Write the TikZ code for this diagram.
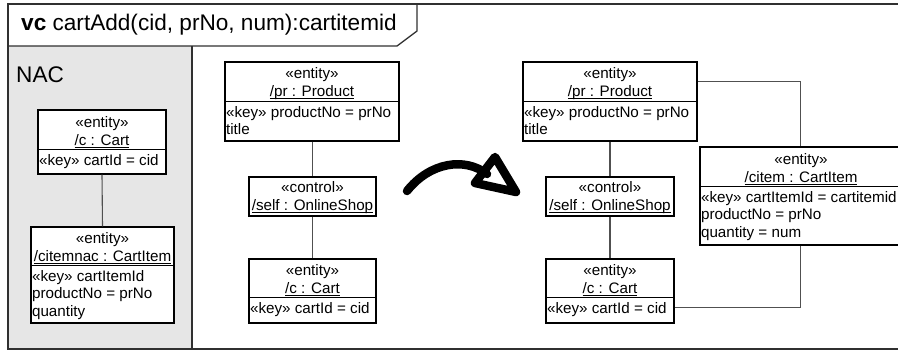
\documentclass[tikz,border=0pt]{standalone}
\usepackage{fontspec}
\setmainfont{Liberation Sans}
\usetikzlibrary{fit}
\definecolor{nacgray}{HTML}{E6E6E6}
\definecolor{conngray}{HTML}{505050}
\definecolor{framegray}{HTML}{303030}
\newcommand\undl[1]{\setbox0\hbox{#1}\rlap{\rule[-2.4pt]{\wd0}{0.9pt}}\box0}
\tikzset{
  obox/.style={draw=black, line width=1.3pt, inner sep=0pt, fill=white},
  divline/.style={draw=black, line width=1.3pt},
  hdr/.style={inner sep=0pt, align=center, font=\fontsize{15.2}{17.8}\selectfont},
  attr/.style={inner sep=0pt, anchor=north west, align=left, font=\fontsize{15.2}{17.5}\selectfont},
  conn/.style={draw=conngray, line width=1.1pt},
  frameline/.style={draw=framegray, line width=1.3pt},
  bigtext/.style={inner sep=0pt, anchor=west, font=\fontsize{22.6}{26}\selectfont},
  bigarrow/.style={draw=black, line width=8.5pt, line cap=round, line join=round}
}
% #1 name, #2 x1, #3 y1, #4 x2, #5 y2, #6 divider offset, #7 header, #8 attributes
\newcommand\ubox[8]{%
  \node[obox, fit={(#2,#3) (#4,#5)}] (#1) {};
  \draw[divline] ([yshift=-#6pt]#1.north west) -- ([yshift=-#6pt]#1.north east);
  \node[hdr] (#1-h) at ([yshift=-#6pt/2-2.5pt]#1.north) {#7};
  \node[attr] (#1-a) at ([xshift=1.5pt,yshift=-#6pt-4.5pt]#1.north west) {#8};
}
\begin{document}
\begin{tikzpicture}[x=1pt, y=-1pt]
\useasboundingbox (0,0) rectangle (898,350);
% NAC region
\fill[nacgray] (8,46) rectangle (192,349);
\draw[frameline] (192,46) -- (192,349);
% frame
\draw[frameline] (905,4) -- (8,4) -- (8,349) -- (905,349);
\draw[frameline] (417,4) -- (417,31) -- (397,46) -- (8,46);
\node[bigtext] (title) at (21,25) {\textbf{vc} cartAdd(cid, prNo, num):cartitemid};
\node[bigtext] (nac) at (16,75) {NAC};

% NAC boxes
\ubox{cnac}{38}{110}{166}{174}{40}{«entity»\\\undl{/c : Cart}}{«key» cartId = cid}
\ubox{cinac}{31}{227}{174}{323}{39}{«entity»\\\undl{/citemnac : CartItem}}{«key» cartItemId\\productNo = prNo\\quantity}
\draw[conn] (cnac.south) -- (cinac.north);

% left side
\ubox{pr1}{225}{62}{399}{141}{40}{«entity»\\\undl{/pr : Product}}{«key» productNo = prNo\\title}
\node[obox, fit={(249,177) (376,216)}] (ctl1) {};
\node[hdr] (ctl1-h) at ([yshift=-1pt]ctl1.center) {«control»\\\undl{/self : OnlineShop}};
\ubox{ct1}{249}{259}{376}{323}{39}{«entity»\\\undl{/c : Cart}}{«key» cartId = cid}
\draw[conn] (pr1.south -| ctl1.north) -- (ctl1.north);
\draw[conn] (ctl1.south) -- (ct1.north);

% right side
\ubox{pr2}{523}{62}{697}{141}{40}{«entity»\\\undl{/pr : Product}}{«key» productNo = prNo\\title}
\node[obox, fit={(546,177) (674,216)}] (ctl2) {};
\node[hdr] (ctl2-h) at ([yshift=-1pt]ctl2.center) {«control»\\\undl{/self : OnlineShop}};
\ubox{ct2}{546}{259}{674}{323}{39}{«entity»\\\undl{/c : Cart}}{«key» cartId = cid}
\ubox{ci}{700}{147}{902}{245}{40}{«entity»\\\undl{/citem : CartItem}}{«key» cartItemId = cartitemid\\productNo = prNo\\quantity = num}
\draw[conn] (pr2.south -| ctl2.north) -- (ctl2.north);
\draw[conn] (ctl2.south) -- (ct2.north);
\draw[conn] ([yshift=-20pt]pr2.north east) -| ([xshift=101pt]ci.north west);
\draw[conn] ([xshift=101pt]ci.south west) |- ([yshift=16pt]ct2.south east);

% transformation arrow
\coordinate (a1) at (407,191);
\coordinate (a2) at (487,174);
\coordinate (t1) at (495,157);
\coordinate (t2) at (516,192);
\coordinate (t3) at (475,183);
\draw[bigarrow] (a1) .. controls (430,162) and (465,157) .. (a2);
\draw[bigarrow] (t1) -- (t2) -- (t3) -- cycle;
\end{tikzpicture}
\end{document}
